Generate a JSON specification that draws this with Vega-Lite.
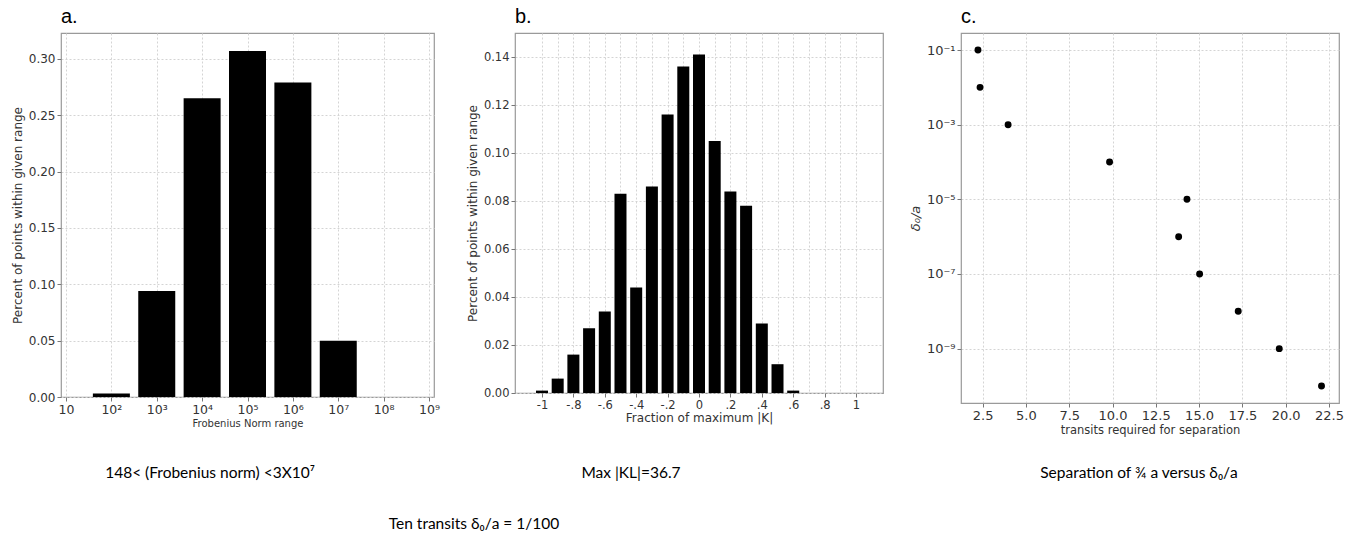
{
  "$schema": "https://vega.github.io/schema/vega-lite/v6.json",
  "background": "white",
  "padding": {"left": 10, "top": 6, "right": 0, "bottom": 0},
  "spacing": 8,
  "vconcat": [
    {
      "spacing": 24,
      "hconcat": [
        {
          "width": 373,
          "height": 364,
          "title": {"text": "a.", "anchor": "start", "frame": "group", "fontSize": 20, "fontWeight": "normal", "font": "Liberation Sans", "offset": 6, "color": "#000"},
          "data": {"values": [
            {"exp": 2, "frac": 0.003},
            {"exp": 3, "frac": 0.094},
            {"exp": 4, "frac": 0.265},
            {"exp": 5, "frac": 0.307},
            {"exp": 6, "frac": 0.279},
            {"exp": 7, "frac": 0.05}
          ]},
          "mark": {"type": "bar", "size": 37, "color": "black", "orient": "vertical"},
          "encoding": {
            "x": {"field": "exp", "type": "quantitative",
              "scale": {"domain": [1, 9], "nice": false, "zero": false},
              "axis": {"values": [1, 2, 3, 4, 5, 6, 7, 8, 9],
                "labelExpr": "['', '10', '10²', '10³', '10⁴', '10⁵', '10⁶', '10⁷', '10⁸', '10⁹'][datum.value]",
                "title": "Frobenius Norm range", "labelFontSize": 12.5, "titleFontSize": 10, "titlePadding": 3}},
            "y": {"field": "frac", "type": "quantitative",
              "scale": {"domain": [0, 0.323], "nice": false},
              "axis": {"values": [0, 0.05, 0.1, 0.15, 0.2, 0.25, 0.3], "format": ".2f",
                "title": "Percent of points within given range", "labelFontSize": 12, "titleFontSize": 12, "titlePadding": 4}}
          }
        },
        {
          "width": 368,
          "height": 360,
          "title": {"text": "b.", "anchor": "start", "frame": "group", "fontSize": 20, "fontWeight": "normal", "font": "Liberation Sans", "offset": 6, "color": "#000"},
          "data": {"values": [
            {"k": -1, "frac": 0.001},
            {"k": -0.9, "frac": 0.006},
            {"k": -0.8, "frac": 0.016},
            {"k": -0.7, "frac": 0.027},
            {"k": -0.6, "frac": 0.034},
            {"k": -0.5, "frac": 0.083},
            {"k": -0.4, "frac": 0.044},
            {"k": -0.3, "frac": 0.086},
            {"k": -0.2, "frac": 0.116},
            {"k": -0.1, "frac": 0.136},
            {"k": 0, "frac": 0.141},
            {"k": 0.1, "frac": 0.105},
            {"k": 0.2, "frac": 0.084},
            {"k": 0.3, "frac": 0.078},
            {"k": 0.4, "frac": 0.029},
            {"k": 0.5, "frac": 0.012},
            {"k": 0.6, "frac": 0.001}
          ]},
          "mark": {"type": "bar", "size": 12, "color": "black", "orient": "vertical"},
          "encoding": {
            "x": {"field": "k", "type": "quantitative",
              "scale": {"domain": [-1.14, 1.14], "nice": false, "zero": false},
              "axis": {"values": [-1, -0.9, -0.8, -0.7, -0.6, -0.5, -0.4, -0.3, -0.2, -0.1, 0, 0.1, 0.2, 0.3, 0.4, 0.5, 0.6, 0.7, 0.8, 0.9, 1],
                "labelExpr": "(round(datum.value*10) % 2 != 0) ? '' : (datum.value == 0 ? '0' : (abs(round(datum.value*10)) == 10 ? (datum.value < 0 ? '-1' : '1') : (datum.value < 0 ? '-' : '') + '.' + abs(round(datum.value*10))))",
                "tickOpacity": {"condition": {"test": "round(datum.value*10) % 2 != 0", "value": 0}, "value": 1},
                "title": "Fraction of maximum |K|", "labelFontSize": 11.5, "titleFontSize": 12, "titlePadding": 2}},
            "y": {"field": "frac", "type": "quantitative",
              "scale": {"domain": [0, 0.15], "nice": false},
              "axis": {"values": [0, 0.02, 0.04, 0.06, 0.08, 0.1, 0.12, 0.14], "format": ".2f",
                "title": "Percent of points within given range", "labelFontSize": 11.5, "titleFontSize": 12, "titlePadding": 4}}
          }
        },
        {
          "width": 378,
          "height": 370,
          "title": {"text": "c.", "anchor": "start", "frame": "group", "fontSize": 20, "fontWeight": "normal", "font": "Liberation Sans", "offset": 6, "color": "#000"},
          "data": {"values": [
            {"transits": 2.23, "ratio": 1e-1},
            {"transits": 2.35, "ratio": 1e-2},
            {"transits": 3.97, "ratio": 1e-3},
            {"transits": 9.83, "ratio": 1e-4},
            {"transits": 14.3, "ratio": 1e-5},
            {"transits": 13.82, "ratio": 1e-6},
            {"transits": 15.03, "ratio": 1e-7},
            {"transits": 17.26, "ratio": 1e-8},
            {"transits": 19.63, "ratio": 1e-9},
            {"transits": 22.07, "ratio": 1e-10}
          ]},
          "mark": {"type": "point", "filled": true, "color": "black", "size": 48, "opacity": 1},
          "encoding": {
            "x": {"field": "transits", "type": "quantitative",
              "scale": {"domain": [1.25, 23.08], "nice": false, "zero": false},
              "axis": {"values": [2.5, 5, 7.5, 10, 12.5, 15, 17.5, 20, 22.5], "format": ".1f",
                "title": "transits required for separation", "labelFontSize": 13, "titleFontSize": 11.5, "titlePadding": 2}},
            "y": {"field": "ratio", "type": "quantitative",
              "scale": {"type": "log", "domain": [3.5e-11, 0.2858], "nice": false},
              "axis": {"values": [1e-1, 1e-3, 1e-5, 1e-7, 1e-9],
                "labelExpr": "datum.value > 0.05 ? '10⁻¹' : datum.value > 0.0005 ? '10⁻³' : datum.value > 0.000005 ? '10⁻⁵' : datum.value > 0.00000005 ? '10⁻⁷' : '10⁻⁹'",
                "title": "δ₀/a", "titleFontStyle": "italic", "labelFontSize": 13, "titleFontSize": 13, "titlePadding": 4}}
          }
        }
      ]
    },
    {
      "width": 1340,
      "height": 90,
      "view": {"stroke": null},
      "layer": [
        {
          "data": {"values": [{"t": "148< (Frobenius norm) <3X10⁷"}]},
          "mark": {"type": "text", "font": "Lato", "fontSize": 15.5, "align": "center", "baseline": "middle", "dx": -521, "dy": -17, "color": "#000"},
          "encoding": {"text": {"field": "t", "type": "nominal"}}
        },
        {
          "data": {"values": [{"t": "Max |KL|=36.7"}]},
          "mark": {"type": "text", "font": "Lato", "fontSize": 15.5, "align": "center", "baseline": "middle", "dx": -100, "dy": -17, "color": "#000"},
          "encoding": {"text": {"field": "t", "type": "nominal"}}
        },
        {
          "data": {"values": [{"t": "Ten transits δ₀/a = 1/100"}]},
          "mark": {"type": "text", "font": "Lato", "fontSize": 15.5, "align": "center", "baseline": "middle", "dx": -257, "dy": 34, "color": "#000"},
          "encoding": {"text": {"field": "t", "type": "nominal"}}
        },
        {
          "data": {"values": [{"t": "Separation of ¾ a versus δ₀/a"}]},
          "mark": {"type": "text", "font": "Lato", "fontSize": 15.5, "align": "center", "baseline": "middle", "dx": 408, "dy": -17, "color": "#000"},
          "encoding": {"text": {"field": "t", "type": "nominal"}}
        }
      ]
    }
  ],
  "config": {
    "view": {"stroke": "#9a9a9a", "strokeWidth": 1.2},
    "axis": {
      "labelFont": "DejaVu Sans", "titleFont": "DejaVu Sans",
      "labelColor": "#333333", "titleColor": "#333333", "titleFontWeight": "normal",
      "grid": true, "gridColor": "#d4d4d4", "gridDash": [2, 2], "gridWidth": 1,
      "domain": false, "tickColor": "#777777", "tickSize": 4, "labelPadding": 2,
      "zindex": 1, "labelOverlap": false
    }
  }
}
